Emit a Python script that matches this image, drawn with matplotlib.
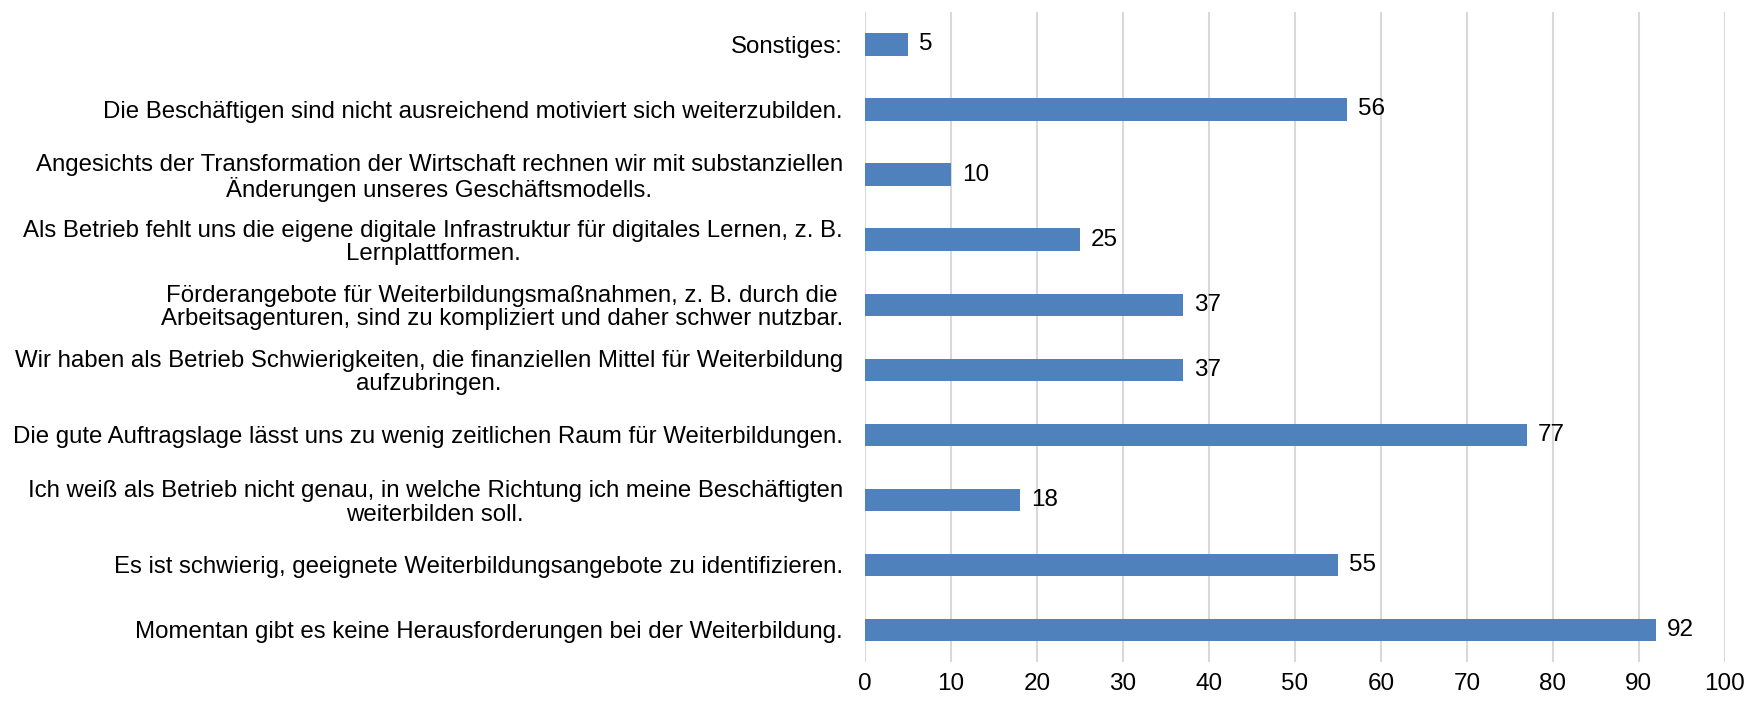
import matplotlib.pyplot as plt

plt.rcParams['font.family'] = ['Liberation Sans', 'DejaVu Sans']

# categories listed from bottom to top
categories = [
    "Momentan gibt es keine Herausforderungen bei der Weiterbildung.",
    "Es ist schwierig, geeignete Weiterbildungsangebote zu identifizieren.",
    "Ich weiß als Betrieb nicht genau, in welche Richtung ich meine Beschäftigten\nweiterbilden soll.",
    "Die gute Auftragslage lässt uns zu wenig zeitlichen Raum für Weiterbildungen.",
    "Wir haben als Betrieb Schwierigkeiten, die finanziellen Mittel für Weiterbildung\naufzubringen.",
    "Förderangebote für Weiterbildungsmaßnahmen, z. B. durch die\nArbeitsagenturen, sind zu kompliziert und daher schwer nutzbar.",
    "Als Betrieb fehlt uns die eigene digitale Infrastruktur für digitales Lernen, z. B.\nLernplattformen.",
    "Angesichts der Transformation der Wirtschaft rechnen wir mit substanziellen\nÄnderungen unseres Geschäftsmodells.",
    "Die Beschäftigen sind nicht ausreichend motiviert sich weiterzubilden.",
    "Sonstiges:",
]
values = [92, 55, 18, 77, 37, 37, 25, 10, 56, 5]
x_ticks = list(range(0, 101, 10))

fig = plt.figure(figsize=(17.44, 7.03), dpi=100)
ax = fig.add_axes([0.496, 0.058, 0.493, 0.925])

pos = list(range(len(categories)))
ax.barh(pos, values, height=0.34, color='#4F81BD', zorder=3)

for y, v in zip(pos, values):
    ax.text(v + 1.3, y, str(v), va='center', ha='left', fontsize=17.5, color='black')

ax.set_xlim(0, 100)
ax.set_ylim(-0.5, len(categories) - 0.5)
ax.set_xticks(x_ticks)
ax.set_yticks(pos)
ax.set_yticklabels(categories, fontsize=17.3, multialignment='center',
                   linespacing=1.08)
ax.tick_params(axis='x', labelsize=17.5, length=0, pad=8)
ax.tick_params(axis='y', length=0, pad=16)
ax.grid(axis='x', color='#D9D9D9', linewidth=1.5, zorder=0)
for s in ax.spines.values():
    s.set_visible(False)

fig.savefig('out.png', dpi=100)
